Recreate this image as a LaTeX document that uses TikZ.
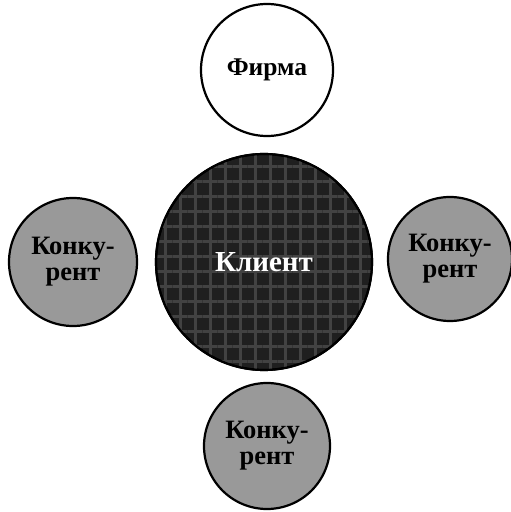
\documentclass[tikz,border=0pt]{standalone}
\usepackage{fontspec}
\setmainfont{Liberation Serif}
\usetikzlibrary{patterns.meta}
\begin{document}
\begin{tikzpicture}[x=1pt,y=1pt,
  circ/.style={circle,draw=black,line width=2.2pt,inner sep=0pt,align=center,
    font=\fontsize{26.5}{26}\selectfont\bfseries},
  greycirc/.style={circ,fill=black!40},
  darkcirc/.style={circ,fill=black!88,
    postaction={pattern={Lines[angle=0,distance=15pt,line width=3pt]},pattern color=black!74},
    postaction={pattern={Lines[angle=90,distance=15pt,line width=3pt]},pattern color=black!74},
    postaction={draw=black,line width=2.2pt}},
  whitecirc/.style={circ,fill=white},
  klienttext/.style={text=white,font=\fontsize{29}{30}\selectfont\bfseries}]
\useasboundingbox (0,0) rectangle (511,512);
\fill[white] (0,0) rectangle (511,512);
\node[whitecirc,minimum size=132pt,font=\fontsize{25.5}{26}\selectfont\bfseries] (firma) at (267,442) {Фирма};
\node[darkcirc,minimum size=216pt] (klient) at (264,250) {};
\node[klienttext] (klientlabel) at (klient.center) {Клиент};
\node[greycirc,minimum size=128pt] (left) at (73,250) {Конку-\\рент};
\node[greycirc,minimum size=124pt] (right) at (450,253) {Конку-\\рент};
\node[greycirc,minimum size=126pt] (bottom) at (267,66) {Конку-\\рент};
\end{tikzpicture}
\end{document}
